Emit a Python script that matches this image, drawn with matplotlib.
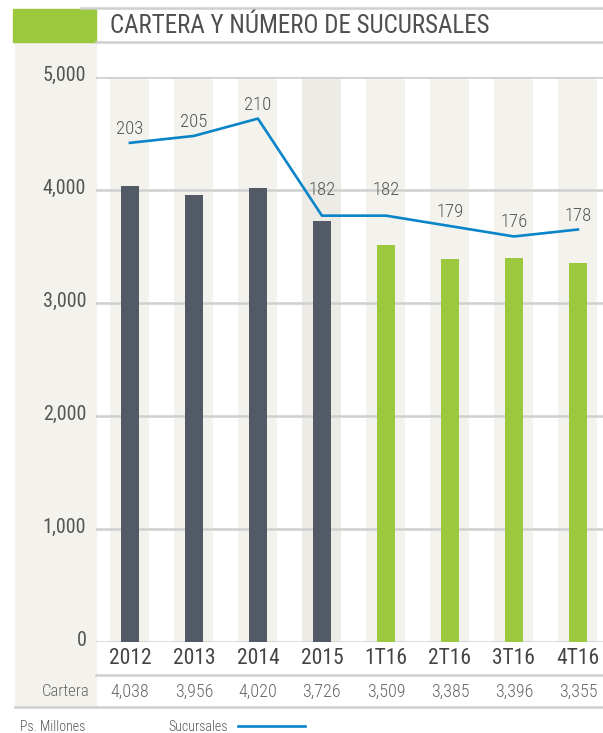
import matplotlib
matplotlib.use("Agg")
import matplotlib.pyplot as plt
import matplotlib.transforms as mtransforms
from matplotlib.patches import Rectangle
from matplotlib.lines import Line2D

plt.rcParams['font.family'] = ['Roboto Condensed', 'DejaVu Sans']
plt.rcParams['font.weight'] = 'light'

categories = ['2012', '2013', '2014', '2015', '1T16', '2T16', '3T16', '4T16']
cartera = [4038, 3956, 4020, 3726, 3509, 3385, 3396, 3355]
cartera_labels = ['4,038', '3,956', '4,020', '3,726', '3,509', '3,385', '3,396', '3,355']
sucursales = [203, 205, 210, 182, 182, 179, 176, 178]
y_ticks = [0, 1000, 2000, 3000, 4000, 5000]
y_tick_labels = ['0', '1,000', '2,000', '3,000', '4,000', '5,000']

dark = '#525a66'
green = '#9bc83c'
blue = '#0a84c8'
beige = '#f3f2ec'
grid = '#cfcfcf'
txt = '#555555'

W, H = 603, 733
fig = plt.figure(figsize=(W / 100, H / 100), dpi=100)


def fx(px):
    return px / W


def fy(py):
    return 1 - py / H


# left beige panel and title block (below the axes)
fig.patches.append(Rectangle((fx(15), fy(706)), fx(81), (706 - 42) / H,
                             transform=fig.transFigure, color=beige, zorder=-2))
fig.patches.append(Rectangle((fx(13), fy(42)), fx(83), 33 / H,
                             transform=fig.transFigure, color=green, zorder=-1))
fig.lines.append(Line2D([fx(81), 1], [fy(7.5), fy(7.5)], transform=fig.transFigure,
                        color=grid, lw=1.8))
fig.lines.append(Line2D([fx(96), 1], [fy(42), fy(42)], transform=fig.transFigure,
                        color=grid, lw=1.8))
fig.text(fx(110), fy(26), 'CARTERA Y NÚMERO DE SUCURSALES', fontsize=18,
         color='#505050', va='center', ha='left', weight='normal')

ax = fig.add_axes([fx(96), fy(642), (W - 96) / W, 565 / H])
ax.patch.set_alpha(0)
ax.set_xlim(-0.53, -0.53 + 507 / 64)
ax.set_ylim(0, 5000)
x = list(range(len(categories)))

for i in x:
    band = '#ecebe6' if categories[i] == '2015' else beige
    ax.bar(i, 5000, width=0.61, color=band, zorder=0)
for t in y_ticks:
    ax.axhline(t, color=grid, lw=1.8, zorder=1)
bar_colors = [dark if c.isdigit() else green for c in categories]
ax.bar(x, cartera, width=0.27, color=bar_colors, zorder=2)

for s in ax.spines.values():
    s.set_visible(False)
ax.set_xticks([])
ax.set_yticks(y_ticks)
ax.set_yticklabels(y_tick_labels, fontsize=14.5, color=txt, weight='normal')
ax.tick_params(axis='y', length=0, pad=7)
shift = mtransforms.ScaledTranslation(0, 4 / 100, fig.dpi_scale_trans)
for lab in ax.get_yticklabels():
    lab.set_transform(lab.get_transform() + shift)

ax2 = ax.twinx()
ax2.set_ylim(59, 222)
ax2.axis('off')
ax2.plot(x, sucursales, color=blue, lw=1.9, zorder=3)
for i, v in enumerate(sucursales):
    off = 26 if v == 182 else 14
    ax2.annotate(str(v), (i, v), xytext=(0, off * 0.72), textcoords='offset points',
                 ha='center', va='center', fontsize=13.5, color=txt)

# category and cartera rows
bt = mtransforms.blended_transform_factory(ax.transData, fig.transFigure)
for i in x:
    fig.text(i, fy(659), categories[i], transform=bt, ha='center', va='center',
             fontsize=15.5, color='#444444', weight='normal')
    fig.text(i, fy(692), cartera_labels[i], transform=bt, ha='center', va='center',
             fontsize=13, color='#666666')
fig.text(fx(90), fy(692), 'Cartera', ha='right', va='center', fontsize=12,
         color='#666666')
fig.lines.append(Line2D([fx(96), 1], [fy(675), fy(675)], transform=fig.transFigure,
                        color=grid, lw=1.8))
fig.lines.append(Line2D([fx(15), 1], [fy(707), fy(707)], transform=fig.transFigure,
                        color=grid, lw=1.8))

# legend
fig.text(fx(20), fy(727), 'Ps. Millones', ha='left', va='center', fontsize=10,
         color='#555555')
fig.text(fx(168), fy(727), 'Sucursales', ha='left', va='center', fontsize=10,
         color='#555555')
fig.lines.append(Line2D([fx(238), fx(305)], [fy(726), fy(726)],
                        transform=fig.transFigure, color=blue, lw=1.9))

fig.savefig('out.png', dpi=100)
